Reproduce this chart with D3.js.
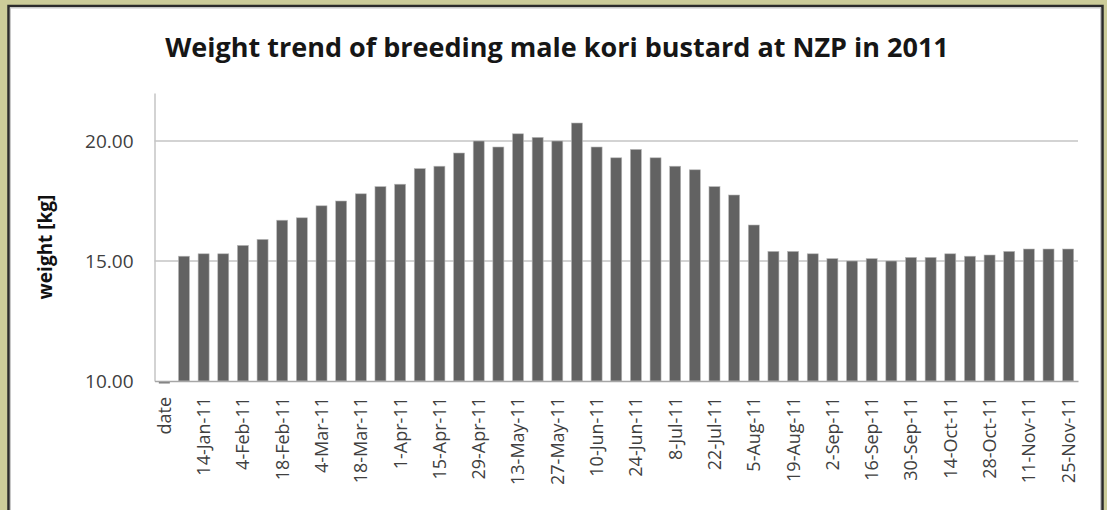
<!DOCTYPE html>
<html>
<head>
<meta charset="utf-8">
<script src="https://cdn.jsdelivr.net/npm/d3@7"></script>
<style>
  html, body { margin: 0; padding: 0; background: #cccc99; }
  svg { display: block; }
</style>
</head>
<body>
<svg id="chart" width="1107" height="510"></svg>
<script>
// ---- data ----
const categories = [
  "date", "7-Jan-11", "14-Jan-11", "28-Jan-11", "4-Feb-11", "11-Feb-11", "18-Feb-11", "25-Feb-11",
  "4-Mar-11", "11-Mar-11", "18-Mar-11", "25-Mar-11", "1-Apr-11", "8-Apr-11", "15-Apr-11", "22-Apr-11",
  "29-Apr-11", "6-May-11", "13-May-11", "20-May-11", "27-May-11", "3-Jun-11", "10-Jun-11", "17-Jun-11",
  "24-Jun-11", "1-Jul-11", "8-Jul-11", "15-Jul-11", "22-Jul-11", "29-Jul-11", "5-Aug-11", "12-Aug-11",
  "19-Aug-11", "26-Aug-11", "2-Sep-11", "9-Sep-11", "16-Sep-11", "23-Sep-11", "30-Sep-11", "7-Oct-11",
  "14-Oct-11", "21-Oct-11", "28-Oct-11", "4-Nov-11", "11-Nov-11", "18-Nov-11", "25-Nov-11"
];
const weights = [
  0, 15.2, 15.3, 15.3, 15.65, 15.9, 16.7, 16.8,
  17.3, 17.5, 17.8, 18.1, 18.2, 18.85, 18.95, 19.5,
  20.0, 19.75, 20.3, 20.15, 20.0, 20.75, 19.75, 19.3,
  19.65, 19.3, 18.95, 18.8, 18.1, 17.75, 16.5, 15.4,
  15.4, 15.3, 15.1, 15.0, 15.1, 15.0, 15.15, 15.15,
  15.3, 15.2, 15.25, 15.4, 15.5, 15.5, 15.5
];
const yTicks = [10, 15, 20];
const yDomain = [10, 22];
const title = "Weight trend of breeding male kori bustard at NZP in 2011";
const yLabel = "weight [kg]";

(function () {
// ---- layout ----
const svg = d3.select("#chart");
const W = 1107, H = 510;
const pLeft = 154.5, pRight = 1078, pTop = 93, pBottom = 381;
const font = "'Open Sans', 'Liberation Sans', sans-serif";

// frame
svg.append("rect").attr("x", 0).attr("y", 0).attr("width", W).attr("height", H).attr("fill", "#cccc99");
svg.append("rect")
  .attr("x", 8.5).attr("y", 6).attr("width", 1094).attr("height", 530)
  .attr("fill", "#ffffff").attr("stroke", "#2b2b2b").attr("stroke-width", 2.5);
svg.append("rect")
  .attr("x", 10.5).attr("y", 8).attr("width", 1090).attr("height", 530)
  .attr("fill", "none").attr("stroke", "#c8c8c8").attr("stroke-width", 1);

const x = d3.scaleBand().domain(categories).range([pLeft, pRight]).paddingInner(0.44).paddingOuter(0.22);
const y = d3.scaleLinear().domain(yDomain).range([pBottom, pTop]);

// gridlines
svg.append("g").selectAll("line").data(yTicks.filter(t => t > yDomain[0])).join("line")
  .attr("x1", pLeft).attr("x2", pRight)
  .attr("y1", d => y(d)).attr("y2", d => y(d))
  .attr("stroke", "#c4c4c4").attr("stroke-width", 1.5);

// y axis
const yAxis = d3.axisLeft(y).tickValues(yTicks).tickFormat(d3.format(".2f")).tickSize(0).tickPadding(21);
const gy = svg.append("g").attr("transform", `translate(${pLeft},0)`).call(yAxis);
gy.select(".domain").attr("stroke", "#c4c4c4").attr("stroke-width", 1.5);
gy.selectAll("text").attr("font-family", font).attr("font-size", 19).attr("fill", "#404040");

// bars
const barData = categories.map((c, i) => ({ c, v: weights[i] }));
svg.append("g").selectAll("rect").data(barData).join("rect")
  .attr("x", d => x(d.c))
  .attr("width", x.bandwidth())
  .attr("y", d => d.v >= yDomain[0] ? y(d.v) : pBottom + 0.5)
  .attr("height", d => d.v >= yDomain[0] ? y(yDomain[0]) - y(d.v) : 2)
  .attr("fill", d => d.v >= yDomain[0] ? "#626262" : "#7a7a7a")
  .attr("stroke", d => d.v >= yDomain[0] ? "#b8b8b8" : "none")
  .attr("stroke-width", 0.6);

// x axis
const xAxis = d3.axisBottom(x).tickValues(categories.filter((c, i) => i % 2 === 0)).tickSize(0).tickPadding(0);
const gx = svg.append("g").attr("transform", `translate(0,${pBottom})`).call(xAxis);
gx.select(".domain").attr("stroke", "#a6a6a6").attr("stroke-width", 1.5);
gx.selectAll("text")
  .attr("font-family", font).attr("font-size", 18).attr("fill", "#404040")
  .attr("text-anchor", "end")
  .attr("transform", "rotate(-90)")
  .attr("x", -16).attr("y", 0).attr("dy", "0.36em");

// title
svg.append("text")
  .attr("x", 557).attr("y", 57)
  .attr("text-anchor", "middle")
  .attr("font-family", font).attr("font-weight", "bold").attr("font-size", 27)
  .attr("fill", "#161616")
  .text(title);

// y label
svg.append("text")
  .attr("transform", `translate(52,${(pTop + pBottom) / 2 + 10}) rotate(-90)`)
  .attr("text-anchor", "middle")
  .attr("font-family", font).attr("font-weight", "bold").attr("font-size", 19)
  .attr("fill", "#111")
  .text(yLabel);
})();
</script>
</body>
</html>
